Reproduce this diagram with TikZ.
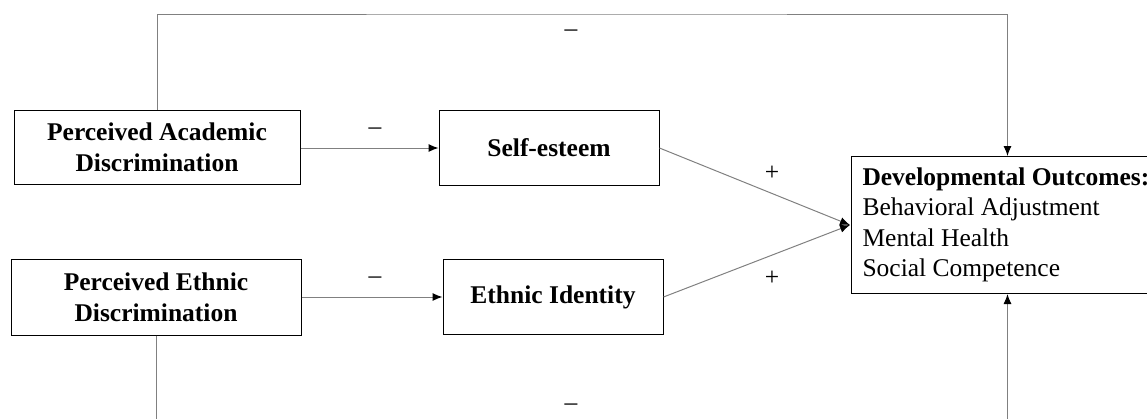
\documentclass[tikz,border=0pt]{standalone}
\usepackage{fontspec}
\setmainfont{Liberation Serif}
\usetikzlibrary{arrows.meta}
\begin{document}
\begin{tikzpicture}[x=1pt,y=-1pt,
  box/.style={draw=black,line width=1pt,inner sep=0pt,align=center,
    font=\fontsize{25.5}{31}\selectfont\bfseries},
  conn/.style={draw=black!50,line width=1pt},
  arr/.style={conn,-{Latex[length=10pt,width=8pt,color=black]}},
  sign/.style={inner sep=0pt,font=\fontsize{25.5}{31}\selectfont}]
\useasboundingbox (0,0) rectangle (1147,418);
\node[box,minimum width=286pt,minimum height=74pt] (A) at (157,147) {Perceived Academic\\Discrimination};
\node[box,minimum width=290pt,minimum height=76pt] (B) at (156,297) {Perceived Ethnic\\Discrimination};
\node[box,minimum width=220pt,minimum height=75pt] (SE) at (549,148) {Self-esteem};
\node[box,minimum width=220pt,minimum height=75pt] (EI) at (553,297) {Ethnic Identity};
\node[draw=black,line width=1pt,inner xsep=11pt,inner ysep=0pt,anchor=north west,
  minimum width=312pt,minimum height=137pt,text width=290pt,align=flush left,
  font=\fontsize{25.5}{30.5}\selectfont] (DO) at (851,156)
  {\textbf{Developmental Outcomes:}\\Behavioral Adjustment\\Mental Health\\Social Competence};
\coordinate (C) at (850,225);
\coordinate (top) at (571,14);
\coordinate (bot) at (571,450);
\draw[arr] (A.east |- SE.west) -- (SE.west);
\draw[arr] (B.east |- EI.west) -- (EI.west);
\draw[arr] (SE.east) -- (C);
\draw[arr] (EI.east) -- (C);
\draw[arr] (A.north) |- (top) -| (DO.north);
\draw[arr] (B.south) |- (bot) -| (DO.south);
\node[sign] (m1) at (375,131) {–};
\node[sign] (m2) at (375,280) {–};
\node[sign] (m3) at (571,33) {–};
\node[sign] (m4) at (571,407) {–};
\node[sign] (p1) at (772,173) {+};
\node[sign] (p2) at (772,278) {+};
\end{tikzpicture}
\end{document}
